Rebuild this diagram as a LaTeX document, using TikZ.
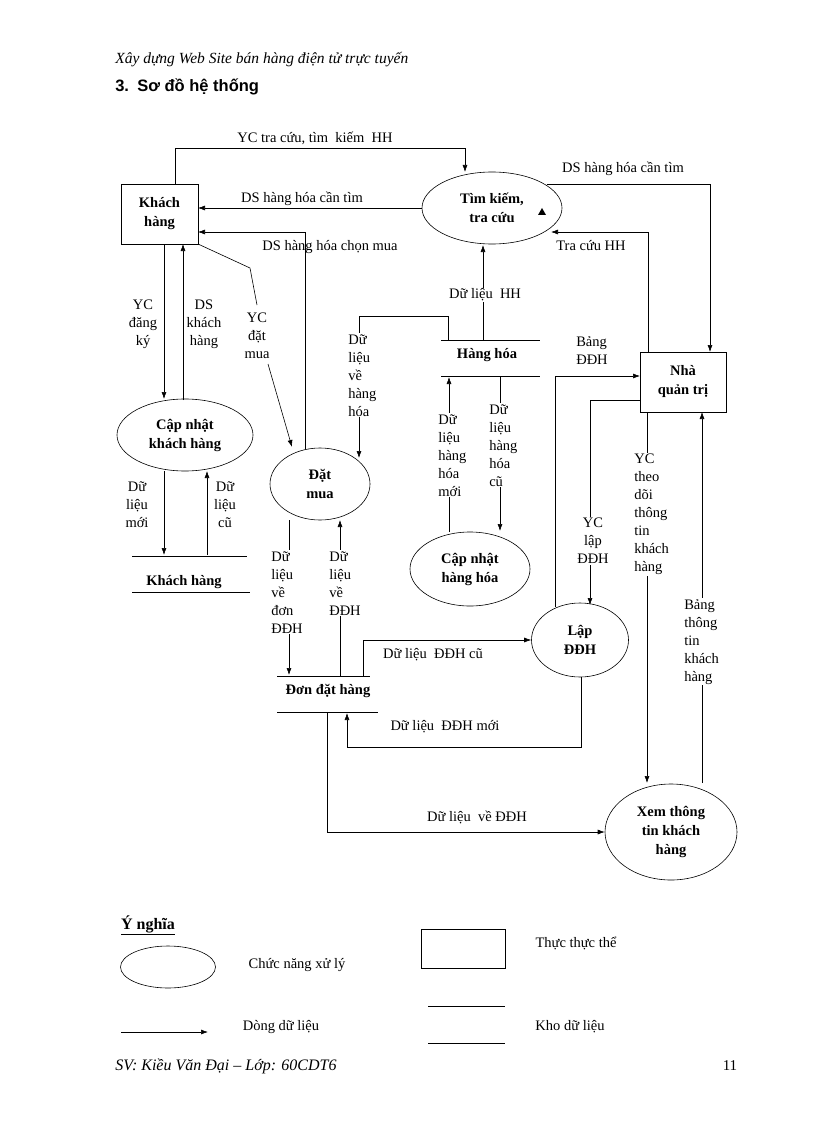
\documentclass[tikz,border=0pt]{standalone}
\usepackage{fontspec}
\setmainfont{Liberation Serif}
\newfontfamily\hdsans{Liberation Sans}
\usetikzlibrary{shapes.geometric,arrows.meta}
\begin{document}
\begin{tikzpicture}[x=1pt,y=-1pt,
  every node/.style={font=\fontsize{14.5}{18}\selectfont,inner sep=1pt},
  lbl/.style={align=center,fill=white},
  lbll/.style={align=left,fill=white},
  proc/.style={draw,ellipse,font=\fontsize{14.5}{19}\selectfont\bfseries,align=center,inner sep=0pt},
  ent/.style={draw,rectangle,font=\fontsize{14.5}{19}\selectfont\bfseries,align=center,inner sep=0pt},
  st/.style={font=\fontsize{14.5}{18}\selectfont\bfseries},
  fl/.style={-{Latex[length=7pt,width=5pt]}},
  line width=0.6pt]
\useasboundingbox (0,0) rectangle (816,1123);
\node[anchor=west,font=\fontsize{15.5}{17}\selectfont\itshape] (hdr) at (114,60) {Xây dựng Web Site bán hàng điện tử trực tuyến};
\node[anchor=west,font=\hdsans\fontsize{16.5}{18}\selectfont\bfseries] (sec) at (114,87) {3.\enspace Sơ đồ hệ thống};

% entities
\node[ent,minimum width=77pt,minimum height=60pt] (kh) at (159.5,214) {Khách\\hàng};
\node[ent,minimum width=86pt,minimum height=60pt] (nqt) at (683,382) {Nhà\\quản trị};
% processes
\node[proc,minimum width=140pt,minimum height=72pt] (tk) at (492,208) {Tìm kiếm,\\tra cứu};
\node[proc,minimum width=136pt,minimum height=72pt] (cnkh) at (185,435) {Cập nhật\\khách hàng};
\node[proc,minimum width=100pt,minimum height=72pt] (dm) at (320,484) {Đặt\\mua};
\node[proc,minimum width=120pt,minimum height=74pt] (cnhh) at (470,569) {Cập nhật\\hàng hóa};
\node[proc,minimum width=97pt,minimum height=74pt] (ld) at (580,640) {Lập\\ĐĐH};
\node[proc,minimum width=132pt,minimum height=96pt] (xem) at (671,832) {Xem thông\\tin khách\\hàng};
\fill (542,208) -- (546,215) -- (538,215) -- cycle;

% stores
\draw (132,556) -- (247,556); \draw (132,592) -- (250,592);
\node[st] (skh) at (184,582) {Khách hàng};
\draw (441,340) -- (540,340); \draw (441,376) -- (540,376);
\node[st] (shh) at (487,355) {Hàng hóa};
\draw (277,676) -- (370,676); \draw (277,712) -- (378,712);
\node[st] (sdh) at (328,691) {Đơn đặt hàng};

% flows
\draw[fl] (175,184) -- (175,148) -- (465,148) -- (465,172);
\node (l1) at (315,138) {YC tra cứu, tìm\enspace kiếm\enspace HH};
\draw[fl] (tk.west) -- (198,208);
\node (l2) at (302,199) {DS hàng hóa cần tìm};
\draw[fl] (305,449) -- (305,232) -- (198,232);
\node (l3) at (330,247) {DS hàng hóa chọn mua};
\draw (198,244) -- (250,268) -- (257,305);
\node[lbl] (l4) at (257,336) {YC\\đặt\\mua};
\draw[fl] (268,364) -- (292,447);
\draw[fl] (164,244) -- (164,399);
\node[lbl] (l5) at (143,324) {YC\\đăng\\ký};
\draw[fl] (183,400) -- (183,244);
\node[lbl] (l6) at (204,324) {DS\\khách\\hàng};
\draw[fl] (164,471) -- (164,555);
\node[lbl] (l7) at (137,505) {Dữ\\liệu\\mới};
\draw[fl] (207,555) -- (207,471);
\node[lbl] (l8) at (225,505) {Dữ\\liệu\\cũ};
% Hang hoa flows
\draw[fl] (448,340) -- (448,316) -- (359,316) -- (359,458);
\node[lbll,anchor=north west] (l9) at (347,333) {Dữ\\liệu\\về\\hàng\\hóa};
\draw[fl] (483,340) -- (483,245);
\node[lbl] (l10) at (485,295) {Dữ liệu\enspace HH};
\draw[fl] (449,532) -- (449,377);
\node[lbll,anchor=north west] (l11) at (437,413) {Dữ\\liệu\\hàng\\hóa\\mới};
\draw[fl] (500,376) -- (500,531);
\node[lbll,anchor=north west] (l12) at (488,403) {Dữ\\liệu\\hàng\\hóa\\cũ};
% nha quan tri flows
\draw[fl] (547,184) -- (710,184) -- (710,352);
\node (l13) at (623,169) {DS hàng hóa cần tìm};
\draw[fl] (648,352) -- (648,232) -- (551,232);
\node (l14) at (591,246) {Tra cứu HH};
\draw[fl] (555,607) -- (555,376) -- (640,376);
\node[align=left] (l15) at (592,351) {Bảng\\ĐĐH};
\draw[fl] (640,400) -- (590,400) -- (590,605);
\node[lbl] (l16) at (593,541) {YC\\lập\\ĐĐH};
\draw[fl] (647,412) -- (647,783);
\node[lbll,anchor=north west] (l17) at (633,453) {YC\\theo\\dõi\\thông\\tin\\khách\\hàng};
\draw[fl] (702,783) -- (702,412);
\node[lbll,anchor=north west] (l18) at (683,598) {Bảng\\thông\\tin\\khách\\hàng};
% don dat hang flows
\draw[fl] (289,520) -- (289,675);
\node[lbll,anchor=north west] (l19) at (270,550) {Dữ\\liệu\\về\\đơn\\ĐĐH};
\draw[fl] (340,676) -- (340,520);
\node[lbll,anchor=north west] (l20) at (328,550) {Dữ\\liệu\\về\\ĐĐH};
\draw[fl] (363,676) -- (363,640) -- (ld.west);
\node (l21) at (433,655) {Dữ liệu\enspace ĐĐH cũ};
\draw[fl] (581,677) -- (581,747) -- (347,747) -- (347,713);
\node (l22) at (445,727) {Dữ liệu\enspace ĐĐH mới};
\draw[fl] (327,712) -- (327,832) -- (xem.west);
\node (l23) at (477,817) {Dữ liệu\enspace về ĐĐH};

% legend
\node[font=\fontsize{16}{18}\selectfont\bfseries] (yn) at (148,925) {\underline{Ý nghĩa}};
\node[draw,ellipse,minimum width=95pt,minimum height=42pt] (lge) at (168,967) {};
\node (lt1) at (297,965) {Chức năng xử lý};
\coordinate (la1) at (121,1032); \coordinate (la2) at (208,1032);
\draw[fl] (la1) -- (la2);
\node (lt2) at (281,1027) {Dòng dữ liệu};
\node[draw,minimum width=84pt,minimum height=39pt] (lgr) at (463,948.5) {};
\node (lt3) at (576,943) {Thực thực thể};
\draw (428,1006) -- (505,1006); \draw (428,1043) -- (505,1043);
\node (lt4) at (570,1027) {Kho dữ liệu};

\node[anchor=west,font=\fontsize{16}{18}\selectfont\itshape] (ftr) at (114,1066) {SV: Kiều Văn Đại – Lớp: 60CDT6};
\node[font=\fontsize{15}{17}\selectfont] (pg) at (730,1066) {11};
\end{tikzpicture}
\end{document}
